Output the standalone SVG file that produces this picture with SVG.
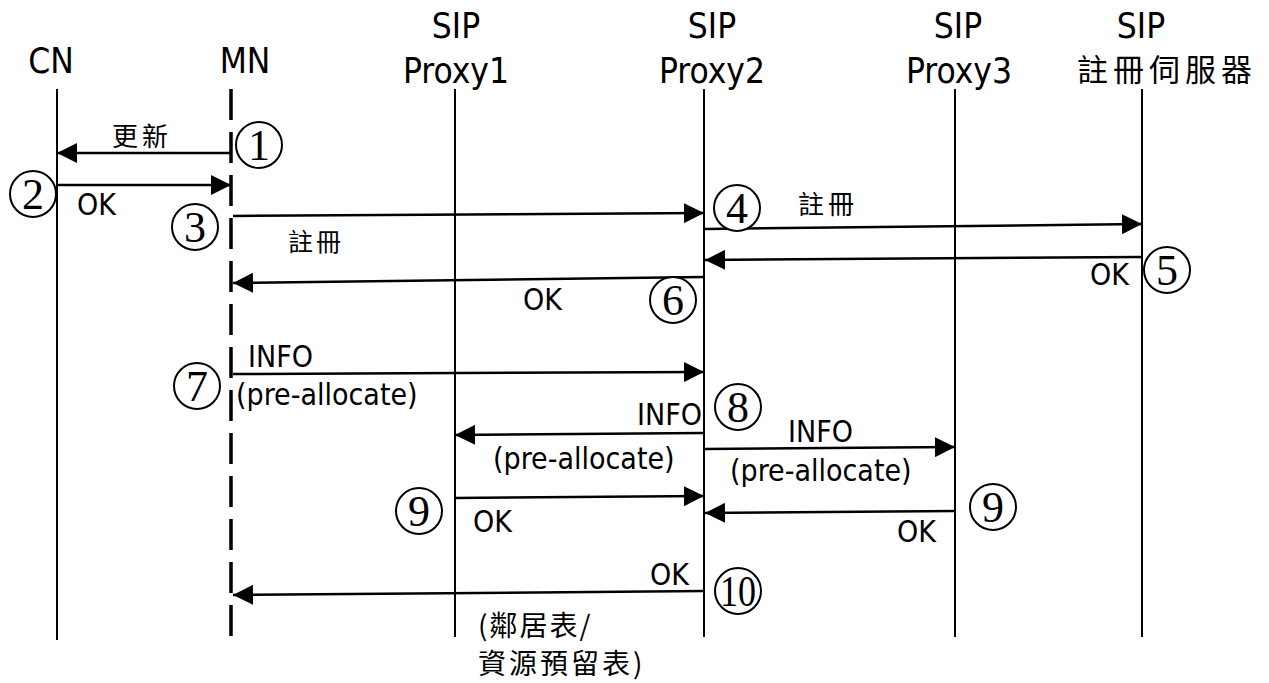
<svg xmlns="http://www.w3.org/2000/svg" width="1269" height="683" viewBox="0 0 1269 683">
<style>
.hd{font-family:"DejaVu Sans Condensed","DejaVu Sans",sans-serif;font-stretch:condensed;font-size:35px;fill:#000}
.lb{font-family:"DejaVu Sans Condensed","DejaVu Sans",sans-serif;font-stretch:condensed;font-size:30px;fill:#000}
.cj{font-family:"Noto Sans CJK TC","Noto Sans CJK SC",sans-serif;fill:#000}
.life{stroke:#000;stroke-width:2;fill:none}
.dash{stroke:#000;stroke-width:3.5;stroke-dasharray:31 12;fill:none}
.msg{stroke:#000;stroke-width:2.5;fill:none;marker-end:url(#ah)}
.cir{fill:#fff;stroke:#000;stroke-width:2}
.num{font-family:"Liberation Serif","Times New Roman",serif;font-size:44px;text-anchor:middle;fill:#000}
</style>
<defs>
<marker id="ah" viewBox="0 0 20 20" refX="20" refY="10" markerWidth="20" markerHeight="20" markerUnits="userSpaceOnUse" orient="auto">
<path d="M0,0 L20,10 L0,20 z" fill="#000"/>
</marker>
</defs>
<rect width="1269" height="683" fill="#fff"/>

<g id="CN">
<text class="hd" x="51" y="73" text-anchor="middle">CN</text>
<line class="life" x1="57" y1="89" x2="57" y2="640"/>
</g>
<g id="MN">
<text class="hd" x="245" y="73" text-anchor="middle">MN</text>
<line class="dash" x1="231" y1="89" x2="231" y2="640"/>
</g>
<g id="Proxy1">
<text class="hd" x="456" y="38" text-anchor="middle">SIP</text>
<text class="hd" x="456" y="83" text-anchor="middle">Proxy1</text>
<line class="life" x1="455" y1="89" x2="455" y2="637"/>
</g>
<g id="Proxy2">
<text class="hd" x="712" y="38" text-anchor="middle">SIP</text>
<text class="hd" x="712" y="83" text-anchor="middle">Proxy2</text>
<line class="life" x1="704" y1="89" x2="704" y2="637"/>
</g>
<g id="Proxy3">
<text class="hd" x="958" y="38" text-anchor="middle">SIP</text>
<text class="hd" x="959" y="83" text-anchor="middle">Proxy3</text>
<line class="life" x1="955" y1="89" x2="955" y2="637"/>
</g>
<g id="Registrar">
<text class="hd" x="1141" y="38" text-anchor="middle">SIP</text>
<text class="cj" x="1077" y="81" font-size="31" letter-spacing="5">註冊伺服器</text>
<line class="life" x1="1142" y1="89" x2="1142" y2="637"/>
</g>

<g id="connectors">
<line class="msg" x1="231" y1="153" x2="57" y2="153"/>
<line class="msg" x1="57" y1="185" x2="231" y2="185"/>
<line class="msg" x1="233" y1="216" x2="704" y2="213"/>
<line class="msg" x1="705" y1="229" x2="1142" y2="224"/>
<line class="msg" x1="1142" y1="257" x2="705" y2="260"/>
<line class="msg" x1="704" y1="277" x2="233" y2="283"/>
<line class="msg" x1="233" y1="374" x2="704" y2="372"/>
<line class="msg" x1="704" y1="433" x2="455" y2="435"/>
<line class="msg" x1="705" y1="449" x2="955" y2="447"/>
<line class="msg" x1="455" y1="498" x2="704" y2="496"/>
<line class="msg" x1="955" y1="511" x2="705" y2="513"/>
<line class="msg" x1="704" y1="591" x2="233" y2="595"/>
</g>

<g id="labels">
<text class="cj" x="112" y="146" font-size="26" letter-spacing="4">更新</text>
<text class="lb" x="77" y="215">OK</text>
<text class="cj" x="288" y="251" font-size="25" letter-spacing="3">註冊</text>
<text class="cj" x="798" y="214" font-size="26" letter-spacing="4">註冊</text>
<text class="lb" x="1090" y="285">OK</text>
<text class="lb" x="523" y="310">OK</text>
<text class="lb" x="248" y="367">INFO</text>
<text class="lb" x="236" y="405">(pre-allocate)</text>
<text class="lb" x="702" y="425" text-anchor="end">INFO</text>
<text class="lb" x="493" y="469">(pre-allocate)</text>
<text class="lb" x="788" y="442">INFO</text>
<text class="lb" x="730" y="481">(pre-allocate)</text>
<text class="lb" x="473" y="532">OK</text>
<text class="lb" x="897" y="542">OK</text>
<text class="lb" x="650" y="585">OK</text>
<text class="cj" x="478" y="636" font-size="28" letter-spacing="2">(鄰居表/</text>
<text class="cj" x="478" y="674" font-size="28" letter-spacing="3">資源預留表)</text>
</g>

<g id="steps">
<circle class="cir" cx="259" cy="145" r="23"/><text class="num" x="259" y="160">1</text>
<circle class="cir" cx="33" cy="194" r="23"/><text class="num" x="33" y="209">2</text>
<circle class="cir" cx="195" cy="227" r="23"/><text class="num" x="195" y="242">3</text>
<circle class="cir" cx="737" cy="208" r="23"/><text class="num" x="737" y="223">4</text>
<circle class="cir" cx="1167" cy="270" r="23"/><text class="num" x="1167" y="285">5</text>
<circle class="cir" cx="673" cy="300" r="23"/><text class="num" x="673" y="315">6</text>
<circle class="cir" cx="197" cy="386" r="23"/><text class="num" x="197" y="401">7</text>
<circle class="cir" cx="738" cy="407" r="23"/><text class="num" x="738" y="422">8</text>
<circle class="cir" cx="419" cy="511" r="23"/><text class="num" x="419" y="526">9</text>
<circle class="cir" cx="993" cy="507" r="23"/><text class="num" x="993" y="522">9</text>
<circle class="cir" cx="738" cy="591" r="23"/><text class="num" x="738" y="606" font-size="40" textLength="36" lengthAdjust="spacingAndGlyphs">10</text>
</g>
</svg>
